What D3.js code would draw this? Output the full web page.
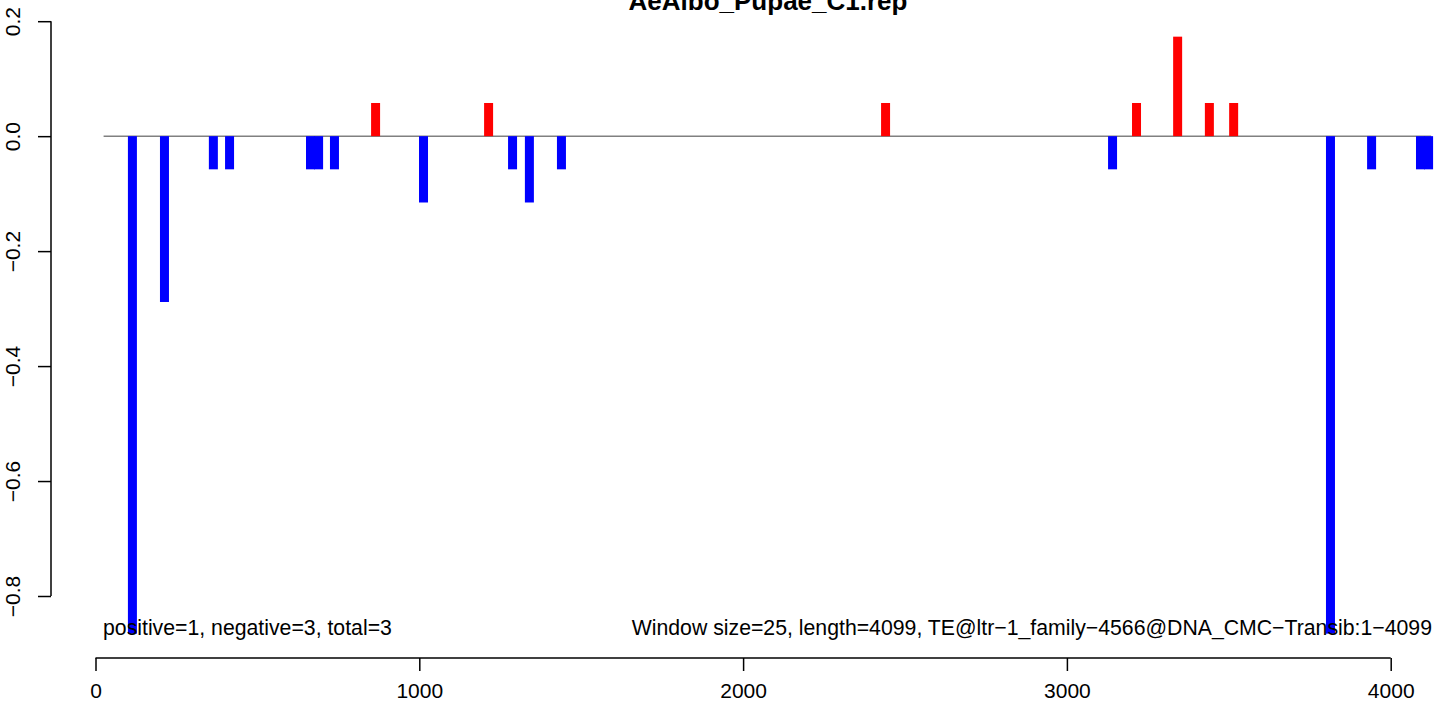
<!DOCTYPE html>
<html>
<head>
<meta charset="utf-8">
<script src="https://cdn.jsdelivr.net/npm/d3@7"></script>
<style>
  html, body { margin: 0; padding: 0; background: #fff; }
  svg { display: block; font-family: "Liberation Sans", Arial, Helvetica, sans-serif; }
</style>
</head>
<body>
<svg id="chart" width="1452" height="706"></svg>
<script>
// ---- data ----
const title = "AeAlbo_Pupae_C1.rep";
const positions = [114, 213, 364, 414, 664, 689, 738, 865, 1013, 1214, 1288, 1340, 1439,
                   2440, 3141, 3215, 3342, 3440, 3515, 3814, 3941, 4092, 4117];
const values = [-0.8655, -0.2885, -0.0577, -0.0577, -0.0577, -0.0577, -0.0577, 0.0577, -0.1154,
                0.0577, -0.0577, -0.1154, -0.0577, 0.0577, -0.0577, 0.0577, 0.1731, 0.0577,
                0.0577, -0.8655, -0.0577, -0.0577, -0.0577];
const xTicks = [0, 1000, 2000, 3000, 4000];
const yTicks = [0.2, 0.0, -0.2, -0.4, -0.6, -0.8];
const zeroLineExtent = [25, 4125];
const leftNote = "positive=1, negative=3, total=3";
const rightNote = "Window size=25, length=4099, TE@ltr\u22121_family\u22124566@DNA_CMC\u2212Transib:1\u22124099";

// ---- layout ----
const svg = d3.select("#chart");
const x = d3.scaleLinear().domain([0, 4000]).range([95.5, 1390.7]);
const y = d3.scaleLinear().domain([-0.8, 0.2]).range([596, 21.2]);
const fs = 21;
const noteFs = 21.25;
const barW = 9;

// zero line
svg.append("line")
  .attr("x1", x(zeroLineExtent[0])).attr("x2", x(zeroLineExtent[1]))
  .attr("y1", y(0)).attr("y2", y(0))
  .attr("stroke", "#808080").attr("stroke-width", 1.5);

// bars
svg.append("g").selectAll("rect")
  .data(positions.map((p, i) => ({p, v: values[i]})))
  .join("rect")
  .attr("x", d => x(d.p) - barW / 2)
  .attr("width", barW)
  .attr("y", d => Math.min(y(0), y(d.v)))
  .attr("height", d => Math.abs(y(d.v) - y(0)))
  .attr("fill", d => d.v > 0 ? "#FF0000" : "#0000FF");

// x axis
const xg = svg.append("g").attr("transform", "translate(0,658)");
xg.call(d3.axisBottom(x).tickValues(xTicks).tickSize(13).tickFormat(d3.format("d")))
  .call(g => g.select(".domain").remove());
xg.append("line").attr("x1", x(0)).attr("x2", x(4000)).attr("y1", 0).attr("y2", 0)
  .attr("stroke", "#000").attr("stroke-width", 1.5);
xg.selectAll(".tick line").attr("stroke", "#000").attr("stroke-width", 1.5);
xg.selectAll(".tick text").attr("font-size", fs).attr("fill", "#000")
  .attr("font-family", "Liberation Sans, Arial, sans-serif")
  .attr("dy", null).attr("y", 40);

// y axis
const yg = svg.append("g").attr("transform", "translate(51,0)");
yg.call(d3.axisLeft(y).tickValues(yTicks).tickSize(13).tickFormat(d3.format(".1f")))
  .call(g => g.select(".domain").remove());
yg.append("line").attr("x1", 0).attr("x2", 0).attr("y1", y(-0.8)).attr("y2", y(0.2))
  .attr("stroke", "#000").attr("stroke-width", 1.5);
yg.selectAll(".tick line").attr("stroke", "#000").attr("stroke-width", 1.5);
yg.selectAll(".tick text")
  .attr("font-size", fs).attr("fill", "#000")
  .attr("font-family", "Liberation Sans, Arial, sans-serif")
  .attr("x", null).attr("dy", null)
  .attr("text-anchor", "middle")
  .attr("transform", "translate(-31,0) rotate(-90)");

// title (partly cut at the top edge, as in the reference)
svg.append("text").attr("x", 768).attr("y", 10)
  .attr("text-anchor", "middle").attr("font-weight", "bold")
  .attr("font-size", 26).text(title);

// notes
svg.append("text").attr("x", 103).attr("y", 635)
  .attr("font-size", noteFs).text(leftNote);
svg.append("text").attr("x", 1432).attr("y", 635)
  .attr("text-anchor", "end").attr("font-size", noteFs).text(rightNote);
</script>
</body>
</html>
